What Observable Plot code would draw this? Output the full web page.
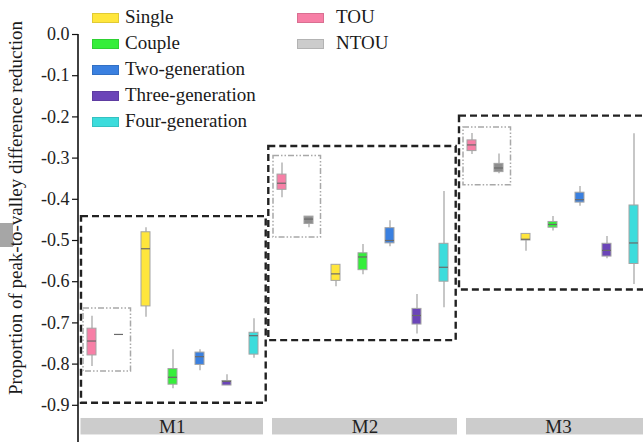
<!DOCTYPE html>
<html>
<head>
<meta charset="utf-8">
<script src="https://cdn.jsdelivr.net/npm/d3@7"></script>
<script src="https://cdn.jsdelivr.net/npm/@observablehq/plot@0.6"></script>
<style>
html, body { margin: 0; padding: 0; background: #fff; overflow: hidden; }
#wrap { position: relative; width: 643px; height: 446px; overflow: hidden; font-family: "Liberation Serif", "Times New Roman", serif; color: #1a1a1a; }
#chart { position: absolute; left: 0; top: 0; width: 650px; }
#ylabel { position: absolute; left: 16px; top: 208px; transform: translate(-50%, -50%) rotate(-90deg); white-space: nowrap; font-size: 19px; }
#artifact { position: absolute; left: 0; top: 223px; width: 13px; height: 24px; background: #a6a6a6; }
.leg { position: absolute; font-size: 19px; line-height: 26px; white-space: nowrap; }
.leg .sw { position: absolute; width: 25px; height: 8px; border: 1px solid rgba(0,0,0,0.12); }
.leg .tx { position: absolute; }
</style>
</head>
<body>
<div id="wrap">
  <div id="chart"></div>
  <div id="artifact"></div>
  <div id="ylabel">Proportion of peak-to-valley difference reduction</div>
  <div id="legend"></div>
</div>
<script>
// ---------- data ----------
const scenarios = ["M1", "M2", "M3"];
const groups = ["TOU", "NTOU", "Single", "Couple", "Two-generation", "Three-generation", "Four-generation"];
const boxColors = ["#f77fa6", "#8e8e8e", "#ffe63c", "#35ee3a", "#3a80e0", "#6b45b8", "#3cdcdc"];
const legendColors = ["#f77fa6", "#cccccc", "#ffe63c", "#35ee3a", "#3a80e0", "#6b45b8", "#3cdcdc"];

// rows: scenario; columns: groups (TOU, NTOU, Single, Couple, Two, Three, Four)
const whiskerLow = [
  [-0.806, -0.728, -0.686, -0.860, -0.816, -0.852, -0.786],
  [-0.396, -0.469, -0.612, -0.583, -0.515, -0.727, -0.663],
  [-0.291, -0.338, -0.526, -0.477, -0.417, -0.544, -0.607]
];
const quartile1 = [
  [-0.779, -0.728, -0.660, -0.850, -0.802, -0.852, -0.777],
  [-0.377, -0.460, -0.598, -0.572, -0.507, -0.704, -0.600],
  [-0.283, -0.334, -0.500, -0.469, -0.408, -0.539, -0.557]
];
const median = [
  [-0.744, -0.728, -0.520, -0.832, -0.782, -0.842, -0.731],
  [-0.361, -0.448, -0.581, -0.540, -0.500, -0.682, -0.565],
  [-0.268, -0.324, -0.497, -0.461, -0.401, -0.524, -0.506]
];
const quartile3 = [
  [-0.714, -0.728, -0.480, -0.812, -0.772, -0.841, -0.724],
  [-0.340, -0.442, -0.559, -0.531, -0.470, -0.666, -0.508],
  [-0.257, -0.314, -0.484, -0.455, -0.384, -0.508, -0.415]
];
const whiskerHigh = [
  [-0.684, -0.728, -0.469, -0.765, -0.765, -0.826, -0.690],
  [-0.312, -0.442, -0.559, -0.510, -0.452, -0.631, -0.381],
  [-0.240, -0.290, -0.484, -0.442, -0.369, -0.490, -0.241]
];
// dashed scenario frames and dotted TOU/NTOU frames (y extents)
const frameTop = [-0.442, -0.272, -0.198];
const frameBottom = [-0.895, -0.743, -0.620];
const pricingTop = [-0.665, -0.295, -0.226];
const pricingBottom = [-0.818, -0.493, -0.366];
const yTicks = [0, -0.1, -0.2, -0.3, -0.4, -0.5, -0.6, -0.7, -0.8, -0.9];

// ---------- build table ----------
const rows = [];
scenarios.forEach((s, i) => groups.forEach((g, j) => rows.push({
  scenario: s, group: g,
  low: whiskerLow[i][j], q1: quartile1[i][j], med: median[i][j], q3: quartile3[i][j], high: whiskerHigh[i][j]
})));
const frames = scenarios.map((s, i) => ({scenario: s, top: frameTop[i], bottom: frameBottom[i], ptop: pricingTop[i], pbottom: pricingBottom[i]}));

// per-facet insets (layout only)
const frameInset = [[1, -1.7], [-1.7, -1.7], [-1, -2]];
const stripInset = [[0.5, 1], [2, -3], [6, -6]];

const serif = "'Liberation Serif', 'Times New Roman', serif";
const marks = [];
scenarios.forEach((s, i) => {
  const d = [frames[i]];
  marks.push(Plot.rect(d, {fx: "scenario", y1: () => -0.932, y2: () => -0.972, fill: "#cccccc",
    insetLeft: stripInset[i][0], insetRight: stripInset[i][1]}));
  marks.push(Plot.text(d, {fx: "scenario", text: "scenario", y: () => -0.952, fontSize: 19, fill: "#222",
    dx: (stripInset[i][0] - stripInset[i][1]) / 2}));
  marks.push(Plot.rect(d, {fx: "scenario", y1: "bottom", y2: "top", fill: "none", stroke: "#222", strokeWidth: 2.4,
    strokeDasharray: "7,4", insetLeft: frameInset[i][0], insetRight: frameInset[i][1]}));
});
marks.push(Plot.rect(frames, {fx: "scenario", y1: "pbottom", y2: "ptop", fill: "none", stroke: "#a8a8a8", strokeWidth: 1.5,
  strokeDasharray: "6,2,1.5,2,1.5,2", insetLeft: 3, insetRight: 133.5}));
marks.push(Plot.ruleX(rows, {fx: "scenario", x: "group", y1: "low", y2: "high", stroke: "#b4b4b4", strokeWidth: 1.5}));
marks.push(Plot.barY(rows, {fx: "scenario", x: "group", y1: "q1", y2: "q3", fill: "group", stroke: "#a4a4a4", strokeWidth: 1}));
marks.push(Plot.tickY(rows, {fx: "scenario", x: "group", y: "med", stroke: "#6a6a6a", strokeWidth: 1.2}));
marks.push(Plot.axisY({ticks: yTicks, tickFormat: d => d.toFixed(1), tickSize: 6, tickPadding: 3, dx: -2,
  label: null, fontSize: 18, fill: "#222", stroke: "#111", strokeWidth: 1.2}));

const chart = Plot.plot({
  width: 650, height: 446,
  marginLeft: 80, marginRight: 6, marginTop: 34, marginBottom: 0,
  style: {fontFamily: serif, fontSize: "18px", maxWidth: "none", background: "transparent"},
  fx: {domain: scenarios, paddingInner: 6 / 190, paddingOuter: 0, axis: null, label: null},
  x: {domain: groups, paddingInner: 0.668, paddingOuter: 0.2315, axis: null, label: null},
  y: {domain: [-1, 0], label: null},
  color: {domain: groups, range: boxColors},
  marks
});
document.getElementById("chart").appendChild(chart);

// y-axis spine drawn from the library's scales
const fxS = chart.scale("fx"), yS = chart.scale("y");
d3.select(chart).append("line")
  .attr("x1", fxS.apply("M1") - 2).attr("x2", fxS.apply("M1") - 2)
  .attr("y1", yS.apply(0)).attr("y2", yS.apply(-0.99))
  .attr("stroke", "#111").attr("stroke-width", 1.6);

// ---------- legend ----------
const legend = document.getElementById("legend");
const col1 = groups.slice(2), col2 = groups.slice(0, 2);
function addItem(name, color, swX, txX, row) {
  const el = document.createElement("div");
  el.className = "leg";
  el.style.left = "0px"; el.style.top = (4 + row * 26) + "px";
  el.innerHTML = `<span class="sw" style="left:${swX}px;top:9px;background:${color}"></span><span class="tx" style="left:${txX}px;top:0">${name}</span>`;
  legend.appendChild(el);
}
col1.forEach((g, k) => addItem(g, legendColors[groups.indexOf(g)], 92, 125, k));
col2.forEach((g, k) => addItem(g, legendColors[groups.indexOf(g)], 297, 336, k));
</script>
</body>
</html>
